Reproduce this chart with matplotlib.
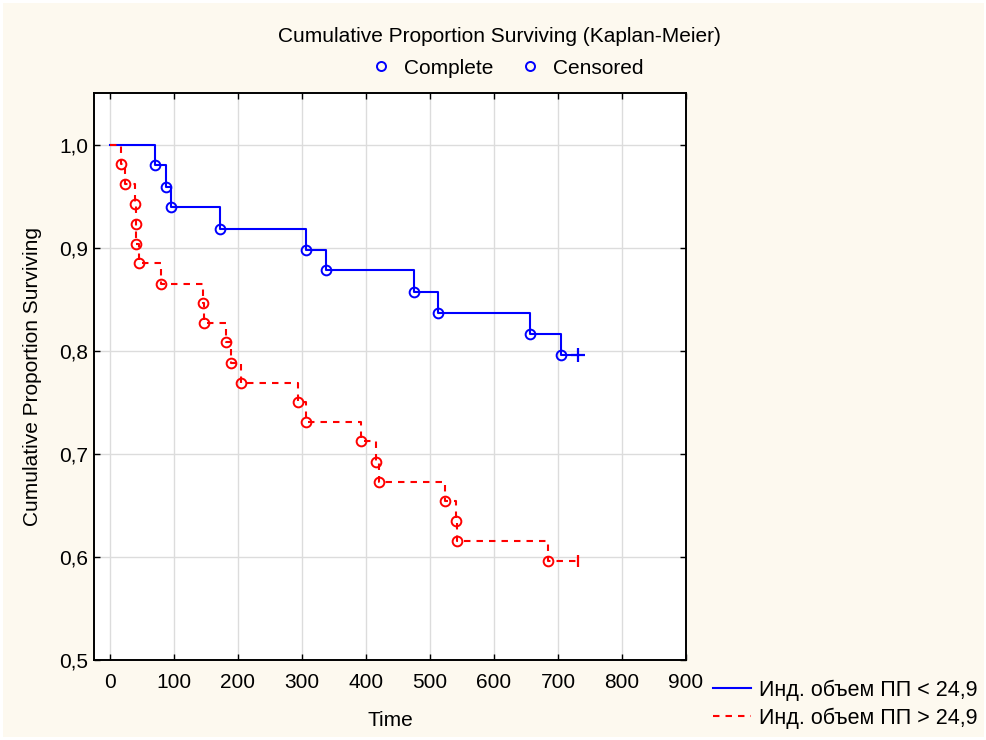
import matplotlib
matplotlib.use("Agg")
import matplotlib.pyplot as plt
from matplotlib.lines import Line2D
from matplotlib.patches import Rectangle
from matplotlib.ticker import FuncFormatter

plt.rcParams['font.family'] = ['Liberation Sans', 'DejaVu Sans']

# group 1: Инд. объем ПП < 24,9 (blue)
blue_times = [71, 88, 96, 172, 306, 338, 475, 513, 657, 704]
blue_surv = [0.980, 0.959, 0.939, 0.918, 0.898, 0.878, 0.857, 0.837, 0.816, 0.796]
blue_censor = 731

# group 2: Инд. объем ПП > 24,9 (red)
red_times = [17, 24, 39, 40, 41, 45, 79, 145, 147, 182, 189, 205, 293, 306,
             392, 415, 420, 523, 541, 542, 684]
red_surv = [0.981, 0.962, 0.942, 0.923, 0.904, 0.885, 0.865, 0.846, 0.827, 0.808,
            0.788, 0.769, 0.750, 0.731, 0.712, 0.692, 0.673, 0.654, 0.635, 0.615, 0.596]
red_censor = 731

labels = ['Инд. объем ПП < 24,9', 'Инд. объем ПП > 24,9']
x_ticks = [0, 100, 200, 300, 400, 500, 600, 700, 800, 900]
y_ticks = [0.5, 0.6, 0.7, 0.8, 0.9, 1.0]

cream = '#fdf9ef'
blue = '#0000ff'
red = '#ff0000'
fs = 15

fig = plt.figure(figsize=(9.87, 7.4), dpi=100, facecolor='white')
fig.patches.append(Rectangle((3 / 987, 3 / 740), 1 - 6 / 987, 1 - 6 / 740,
                             transform=fig.transFigure, facecolor=cream,
                             edgecolor='none', zorder=-10))
ax = fig.add_axes([94 / 987, 1 - 660 / 740, (686 - 94) / 987, (660 - 93) / 740])
ax.set_facecolor('white')

dash = (0, (3.1, 2.9))

# blue curve
bx = [0] + blue_times + [blue_censor]
by = [1.0] + blue_surv + [blue_surv[-1]]
ax.plot(bx, by, drawstyle='steps-post', color=blue, lw=1.5, zorder=3)
ax.plot(blue_times, blue_surv, ls='none', marker='o', ms=7, mfc='none',
        mec=blue, mew=1.4, zorder=4)
ax.plot([blue_censor], [blue_surv[-1]], ls='none', marker='+', ms=10,
        mew=1.6, color=blue, zorder=4)

# red curve
rx = [0] + red_times + [red_censor]
ry = [1.0] + red_surv + [red_surv[-1]]
ax.plot(rx, ry, drawstyle='steps-post', color=red, lw=1.5, ls=dash, zorder=3)
ax.plot(red_times, red_surv, ls='none', marker='o', ms=7, mfc='none',
        mec=red, mew=1.4, zorder=4)
ax.plot([red_censor], [red_surv[-1]], ls='none', marker='|', ms=9,
        mew=1.6, color=red, zorder=4)

ax.set_xlim(-25, 900)
ax.set_ylim(0.5, 1.05)
ax.set_xticks(x_ticks)
ax.set_yticks(y_ticks)
ax.yaxis.set_major_formatter(FuncFormatter(lambda v, p: f'{v:.1f}'.replace('.', ',')))
ax.grid(True, color='#dcdcdc', lw=1.0)
ax.set_axisbelow(True)
ax.tick_params(direction='in', length=4, width=1.0, top=True, right=True,
               labelsize=fs, colors='black')
ax.tick_params(axis='x', pad=9)
ax.tick_params(axis='y', pad=4)
for s in ax.spines.values():
    s.set_linewidth(1.4)
    s.set_color('black')

fig.text(499 / 987, 1 - 37 / 740, 'Cumulative Proportion Surviving (Kaplan-Meier)',
         ha='center', va='center', fontsize=fs)
fig.text(390 / 987, 1 - 720 / 740, 'Time', ha='center', va='center', fontsize=fs)
fig.text(33 / 987, 1 - 377 / 740, 'Cumulative Proportion Surviving', ha='center',
         va='center', rotation=90, fontsize=fs)

# top legend: markers only
top_handles = [Line2D([], [], ls='none', marker='o', ms=6.5, mfc='none', mec=blue, mew=1.4),
               Line2D([], [], ls='none', marker='o', ms=6.5, mfc='none', mec=blue, mew=1.4)]
fig.legend(top_handles, ['Complete', 'Censored'], loc='center',
           bbox_to_anchor=(507 / 987, 1 - 68 / 740), ncol=2, frameon=False,
           fontsize=fs, handlelength=1.0, handletextpad=0.6, columnspacing=1.3)

# bottom right legend
bot_handles = [Line2D([], [], color=blue, lw=1.5),
               Line2D([], [], color=red, lw=1.5, ls=dash)]
fig.legend(bot_handles, labels, loc='center left',
           bbox_to_anchor=(694 / 987, 1 - 704 / 740), frameon=False,
           fontsize=15.5, handlelength=1.75, handletextpad=0.35, labelspacing=0.3)

fig.savefig('out.png', dpi=100, facecolor=fig.get_facecolor())
